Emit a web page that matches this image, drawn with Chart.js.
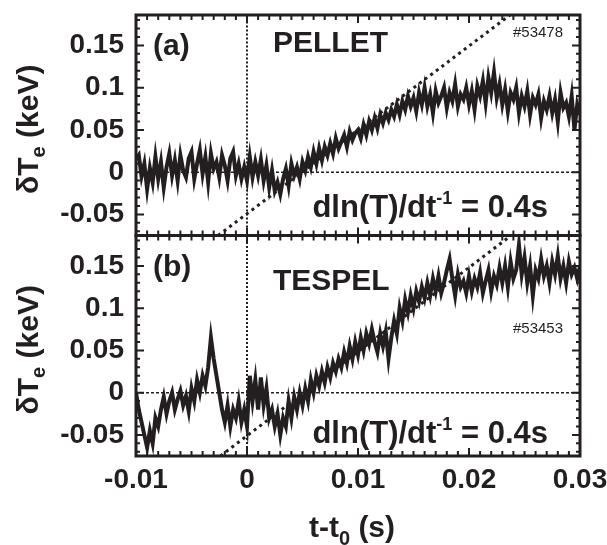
<!DOCTYPE html>
<html>
<head>
<meta charset="utf-8">
<script src="https://cdn.jsdelivr.net/npm/chart.js@4.4.0/dist/chart.umd.min.js"></script>
<style>
  html, body { margin: 0; padding: 0; background: #fff; }
  #wrap { position: relative; width: 607px; height: 545px; }
</style>
</head>
<body>
<div id="wrap"><canvas id="chart" width="607" height="545"></canvas></div>
<script>
// sampling of the traces (s)
var timeStart = -0.01;
var timeStep = 0.00025;

// (a) PELLET, shot #53478, dTe in keV
var pelletTe = [
  0.015, 0.02, -0.005, 0.01, -0.02, 0.005, -0.012, 0.018, -0.008, 0.012,
  -0.018, 0.006, 0.022, -0.004, 0.014, -0.01, 0.02, 0.002, -0.006, 0.016,
  0.024, -0.008, 0.01, 0.026, -0.002, 0.018, -0.012, 0.022, 0.004, 0.012,
  -0.006, 0.02, 0.008, -0.01, 0.016, 0.024, -0.004, 0.01, -0.008, 0.006,
  -0.01,
  0.018, -0.006, 0.012, -0.004, 0.015, -0.01, 0.008, -0.018, 0.002,
  -0.022, -0.012, -0.026, -0.008, 0.004, -0.016, 0.01, -0.004, 0.006, -0.008,
  0.012, 0.002, 0.018, 0.006, 0.024, 0.01, 0.028, 0.014, 0.03, 0.02,
  0.034, 0.022, 0.04, 0.028, 0.036, 0.044, 0.03, 0.048, 0.038, 0.046,
  0.05, 0.04, 0.056, 0.044, 0.06, 0.05, 0.064, 0.052, 0.068, 0.058,
  0.07, 0.062, 0.074, 0.066, 0.08, 0.068, 0.084, 0.074, 0.09, 0.078,
  0.088, 0.072, 0.094, 0.08, 0.1, 0.078, 0.092, 0.07, 0.096, 0.082,
  0.09, 0.1, 0.076, 0.094, 0.084, 0.104, 0.078, 0.092, 0.086, 0.1,
  0.08, 0.096, 0.074, 0.102, 0.09, 0.108, 0.082, 0.112, 0.094, 0.118,
  0.088, 0.104, 0.08, 0.098, 0.072, 0.094, 0.086, 0.1, 0.07, 0.09,
  0.078, 0.096, 0.068, 0.088, 0.08, 0.092, 0.064, 0.084, 0.074, 0.09,
  0.07, 0.086, 0.06, 0.094, 0.076, 0.082, 0.066, 0.09, 0.05, 0.08, 0.068
];

// (b) TESPEL, shot #53453, dTe in keV
var tespelTe = [
  0.0, -0.02, -0.035, -0.05, -0.065, -0.045, -0.06, -0.03, -0.04, -0.02,
  -0.005, -0.025, -0.01, 0.0, -0.02, -0.008, 0.002, -0.015, -0.004, -0.022,
  0.005, -0.01, 0.015, 0.0, 0.02, 0.008, 0.03, 0.065, 0.04, 0.02,
  0.0, -0.02, -0.035, -0.015, -0.04, -0.02, -0.03, -0.01, -0.035, -0.02,
  -0.04,
  0.02, -0.01, 0.015, -0.02, 0.018, -0.015, 0.005, -0.03, -0.02,
  -0.04, -0.025, -0.05, -0.03, -0.04, -0.01, -0.03, -0.005, -0.02, 0.0,
  -0.015, 0.005, -0.01, 0.015, 0.0, 0.02, 0.008, 0.025, 0.012, 0.03,
  0.018, 0.035, 0.025, 0.04, 0.03, 0.048, 0.035, 0.055, 0.04, 0.06,
  0.045, 0.065, 0.05, 0.07, 0.058, 0.075, 0.06, 0.048, 0.07, 0.055,
  0.072, 0.04, 0.065, 0.085, 0.07, 0.1, 0.085, 0.11, 0.095, 0.115,
  0.1, 0.12, 0.108, 0.125, 0.112, 0.13, 0.115, 0.135, 0.12, 0.138,
  0.118, 0.13, 0.145, 0.158, 0.135, 0.115, 0.14, 0.125, 0.132, 0.118,
  0.138, 0.12, 0.135, 0.125, 0.142, 0.118, 0.132, 0.145, 0.12, 0.138,
  0.128, 0.148, 0.13, 0.15, 0.125, 0.155, 0.135, 0.145, 0.175, 0.14,
  0.16, 0.13, 0.15, 0.115, 0.145, 0.135, 0.158, 0.138, 0.15, 0.13,
  0.155, 0.14, 0.162, 0.135, 0.15, 0.13, 0.155, 0.14, 0.148, 0.135, 0.15
];

// dln(T)/dt^-1 = 0.4 s guide lines, [t, dTe] end points
var pelletSlope = [[-0.0026, -0.075], [0.0237, 0.186]];
var tespelSlope = [[-0.0024, -0.075], [0.0238, 0.186]];

var xTicks = [-0.01, 0, 0.01, 0.02, 0.03];
var yTicks = [-0.05, 0, 0.05, 0.1, 0.15];
var xRange = [-0.01, 0.03];
var yRange = [-0.075, 0.186];

var ink = "#231f20";
var font = "'Liberation Sans', Arial, sans-serif";

function toPoints(values) {
  var pts = [];
  for (var i = 0; i < values.length; i++) {
    pts.push({ x: timeStart + i * timeStep, y: values[i] });
  }
  return pts;
}

function pairs(p) {
  return p.map(function (q) { return { x: q[0], y: q[1] }; });
}

function guide(data, axis, width, dash) {
  return {
    data: data,
    yAxisID: axis,
    borderColor: ink,
    borderWidth: width,
    borderDash: dash,
    pointRadius: 0,
    tension: 0,
    fill: false,
  };
}

function fmt(v) {
  return String(+v.toFixed(3));
}

function yScale(weight) {
  return {
    type: "linear",
    position: "left",
    stack: "panels",
    stackWeight: 1,
    weight: weight,
    min: yRange[0],
    max: yRange[1],
    grid: { display: false, drawTicks: false },
    border: { display: false },
    afterBuildTicks: function (s) {
      s.ticks = yTicks.map(function (v) { return { value: v }; });
    },
    afterFit: function (s) {
      s.width = 136;
      s.paddingTop = 0;
      s.paddingBottom = 0;
    },
    ticks: {
      padding: 12,
      autoSkip: false,
      color: ink,
      font: { family: font, size: 28, weight: "bold" },
      callback: fmt,
    },
  };
}

function subText(ctx, parts, x, y, align) {
  // parts: [text, size, dy]
  var total = 0;
  parts.forEach(function (p) {
    ctx.font = "bold " + p[1] + "px " + font;
    total += ctx.measureText(p[0]).width;
  });
  var cx = align === "right" ? x - total : align === "center" ? x - total / 2 : x;
  ctx.textAlign = "left";
  ctx.textBaseline = "alphabetic";
  parts.forEach(function (p) {
    ctx.font = "bold " + p[1] + "px " + font;
    ctx.fillText(p[0], cx, y + p[2]);
    cx += ctx.measureText(p[0]).width;
  });
}

var framePlugin = {
  id: "frame",
  afterDraw: function (chart) {
    var ctx = chart.ctx;
    var xs = chart.scales.x;
    var panels = [chart.scales.yA, chart.scales.yB];
    ctx.save();
    ctx.strokeStyle = ink;
    ctx.fillStyle = ink;

    panels.forEach(function (ys) {
      var top = ys.top, bottom = ys.bottom, left = xs.left, right = xs.right;
      ctx.lineWidth = 2;
      // inward ticks along left / right
      for (var k = -7; k <= 18; k++) {
        var v = k / 100;
        var py = ys.getPixelForValue(v);
        if (py < top + 2 || py > bottom - 2) continue;
        var len = k % 5 === 0 ? 8 : 4;
        ctx.beginPath();
        ctx.moveTo(left, py); ctx.lineTo(left + len, py);
        ctx.moveTo(right, py); ctx.lineTo(right - len, py);
        ctx.stroke();
      }
      // inward ticks along top / bottom
      for (var m = 0; m <= 40; m++) {
        var t = xRange[0] + m / 1000;
        var px = xs.getPixelForValue(t);
        var l2 = m % 10 === 0 ? 8 : 5;
        ctx.beginPath();
        ctx.moveTo(px, top); ctx.lineTo(px, top + l2);
        ctx.moveTo(px, bottom); ctx.lineTo(px, bottom - l2);
        ctx.stroke();
      }
      ctx.lineWidth = 3;
      ctx.strokeRect(left, top, right - left, bottom - top);
    });

    var a = chart.scales.yA, b = chart.scales.yB;

    // y axis titles
    [a, b].forEach(function (ys) {
      ctx.save();
      ctx.translate(38, (ys.top + ys.bottom) / 2 + 4);
      ctx.rotate(-Math.PI / 2);
      subText(ctx, [["\u03b4T", 30, 0], ["e", 20, 7], [" (keV)", 30, 0]], 0, 0, "center");
      ctx.restore();
    });

    // x axis title
    subText(ctx, [["t-t", 30, 0], ["0", 20, 8], [" (s)", 30, 0]], 352, 537, "center");

    // panel labels
    ctx.textBaseline = "middle";
    ctx.textAlign = "left";
    ctx.font = "bold 30px " + font;
    ctx.fillText("(a)", 153, a.top + 32);
    ctx.fillText("PELLET", 273, a.top + 29);
    ctx.fillText("(b)", 153, b.top + 32);
    ctx.fillText("TESPEL", 273, b.top + 46);
    ctx.font = "15px " + font;
    ctx.fillText("#53478", 513, a.top + 18);
    ctx.fillText("#53453", 513, b.top + 93);

    // rate annotation
    var rate = [["dln(T)/dt", 31, 0], ["-1", 18, -13], [" = 0.4s", 31, 0]];
    subText(ctx, rate, 548, a.bottom - 19, "right");
    subText(ctx, rate, 548, b.bottom - 13, "right");
    ctx.restore();
  },
};

var config = {
  type: "line",
  data: {
    datasets: [
      {
        label: "PELLET",
        data: toPoints(pelletTe),
        yAxisID: "yA",
        borderColor: ink,
        borderWidth: 4,
        pointRadius: 0,
        tension: 0,
        fill: false,
      },
      {
        label: "TESPEL",
        data: toPoints(tespelTe),
        yAxisID: "yB",
        borderColor: ink,
        borderWidth: 4,
        pointRadius: 0,
        tension: 0,
        fill: false,
      },
      guide(pairs(pelletSlope), "yA", 3, [3, 4]),
      guide(pairs(tespelSlope), "yB", 3, [3, 4]),
      guide([{ x: 0, y: yRange[0] }, { x: 0, y: yRange[1] }], "yA", 2, [2, 2]),
      guide([{ x: 0, y: yRange[0] }, { x: 0, y: yRange[1] }], "yB", 2, [2, 2]),
      guide([{ x: xRange[0], y: 0 }, { x: xRange[1], y: 0 }], "yA", 1.5, [3, 2]),
      guide([{ x: xRange[0], y: 0 }, { x: xRange[1], y: 0 }], "yB", 1.5, [3, 2]),
    ],
  },
  options: {
    responsive: false,
    animation: false,
    events: [],
    layout: { padding: { top: 15, right: 27, left: 0, bottom: 0 } },
    plugins: {
      legend: { display: false },
      tooltip: { enabled: false },
      title: { display: false },
    },
    scales: {
      x: {
        type: "linear",
        position: "bottom",
        min: xRange[0],
        max: xRange[1],
        grid: { display: false, drawTicks: false },
        border: { display: false },
        afterBuildTicks: function (s) {
          s.ticks = xTicks.map(function (v) { return { value: v }; });
        },
        afterFit: function (s) {
          s.height = 89;
          s.paddingLeft = 0;
          s.paddingRight = 0;
        },
        ticks: {
          padding: 7,
          maxRotation: 0,
          autoSkip: false,
          color: ink,
          font: { family: font, size: 28, weight: "bold" },
          callback: fmt,
        },
      },
      yA: yScale(1),
      yB: yScale(0),
    },
  },
  plugins: [framePlugin],
};

var chart = new Chart(document.getElementById("chart").getContext("2d"), config);
</script>
</body>
</html>
